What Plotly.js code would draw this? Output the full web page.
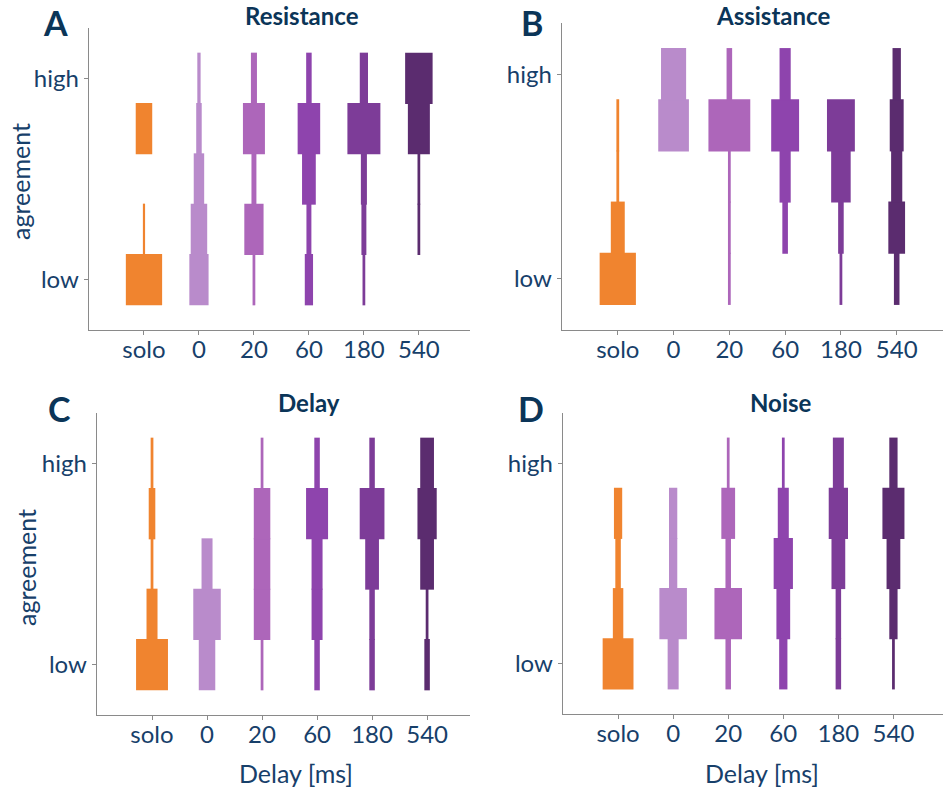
<!DOCTYPE html>
<html>
<head>
<meta charset="utf-8">
<script src="https://cdn.plot.ly/plotly-3.0.1.min.js"></script>
<style>html,body{margin:0;padding:0;background:#fff;}#chart{width:943px;height:789px;}</style>
</head>
<body>
<div id="chart"></div>
<script>
// categories and levels
const categories = ["solo", "0", "20", "60", "180", "540"];
const levelLabels = ["low", "high"];
const levels = [1, 2, 3, 4, 5]; // agreement levels low..high
const colors = ["#F0842F", "#B98BCB", "#AD66BA", "#8E44AD", "#7D3C98", "#5B2C6F"];

// proportion of responses per agreement level (low -> high) for each category
const resistance = {
  solo: [0.66, 0.04, 0.00, 0.30, 0.00],
  d0:   [0.35, 0.30, 0.19, 0.10, 0.06],
  d20:  [0.05, 0.35, 0.09, 0.40, 0.11],
  d60:  [0.15, 0.09, 0.25, 0.41, 0.10],
  d180: [0.05, 0.09, 0.11, 0.60, 0.15],
  d540: [0.00, 0.05, 0.05, 0.40, 0.50]
};
const assistance = {
  solo: [0.65, 0.25, 0.05, 0.05, 0.00],
  d0:   [0.00, 0.00, 0.00, 0.55, 0.45],
  d20:  [0.05, 0.05, 0.05, 0.75, 0.10],
  d60:  [0.00, 0.10, 0.20, 0.50, 0.20],
  d180: [0.05, 0.10, 0.35, 0.50, 0.00],
  d540: [0.10, 0.30, 0.20, 0.25, 0.15]
};
const delay = {
  solo: [0.58, 0.20, 0.05, 0.12, 0.05],
  d0:   [0.30, 0.50, 0.20, 0.00, 0.00],
  d20:  [0.05, 0.30, 0.30, 0.30, 0.05],
  d60:  [0.10, 0.20, 0.20, 0.40, 0.10],
  d180: [0.10, 0.10, 0.25, 0.45, 0.10],
  d540: [0.10, 0.05, 0.25, 0.35, 0.25]
};
const noise = {
  solo: [0.56, 0.19, 0.10, 0.15, 0.00],
  d0:   [0.20, 0.50, 0.15, 0.15, 0.00],
  d20:  [0.10, 0.50, 0.10, 0.25, 0.05],
  d60:  [0.15, 0.25, 0.35, 0.20, 0.05],
  d180: [0.10, 0.10, 0.25, 0.35, 0.20],
  d540: [0.05, 0.15, 0.25, 0.40, 0.15]
};

const panels = [
  {letter: "A", title: "Resistance", data: resistance},
  {letter: "B", title: "Assistance", data: assistance},
  {letter: "C", title: "Delay", data: delay},
  {letter: "D", title: "Noise", data: noise}
];
const keys = ["solo", "d0", "d20", "d60", "d180", "d540"];

const W = 943, H = 789;
const px = v => v / W;
const py = v => 1 - v / H;

// panel geometry (pixels)
const geom = [
  {x0: 89, x1: 470, y0: 28, y1: 330, xr: 6.93},
  {x0: 562, x1: 943, y0: 23, y1: 330, xr: 6.83},
  {x0: 97, x1: 470, y0: 413, y1: 715, xr: 6.78},
  {x0: 563, x1: 943, y0: 413, y1: 714, xr: 6.9}
];

const traces = [];
const layout = {
  width: W, height: H,
  margin: {l: 0, r: 0, t: 0, b: 0},
  paper_bgcolor: "#fff", plot_bgcolor: "#fff",
  showlegend: false,
  barmode: "overlay",
  font: {family: "Lato, 'Open Sans', sans-serif", color: "#17406A"},
  annotations: []
};

const textColor = "#17406A";
const titleColor = "#0B3558";
const seg = 0.51; // half height of one agreement band (tiny overlap avoids seams)

panels.forEach((p, i) => {
  const n = i + 1;
  const xa = "x" + (n === 1 ? "" : n), ya = "y" + (n === 1 ? "" : n);
  keys.forEach((k, j) => {
    traces.push({
      type: "bar",
      x: levels.map(() => j + 1),
      y: levels.map(() => 2 * seg),
      base: levels.map(l => l - seg),
      width: p.data[k],
      marker: {color: colors[j], line: {width: 0}},
      xaxis: xa, yaxis: ya,
      hoverinfo: "skip"
    });
  });
  const g = geom[i];
  layout["xaxis" + (n === 1 ? "" : n)] = {
    domain: [px(g.x0), px(g.x1)],
    anchor: ya,
    range: [0, g.xr],
    tickvals: [1, 2, 3, 4, 5, 6],
    ticktext: categories,
    ticks: "outside", ticklen: 4, tickwidth: 1, tickcolor: "#8a8a8a",
    ticklabelstandoff: -6,
    showline: true, linecolor: "#8a8a8a", linewidth: 1.3,
    showgrid: false, zeroline: false, fixedrange: true,
    tickfont: {family: "Lato, sans-serif", size: 24, color: textColor}
  };
  layout["yaxis" + (n === 1 ? "" : n)] = {
    domain: [py(g.y1), py(g.y0)],
    anchor: xa,
    range: [0, 6],
    tickvals: [1, 5],
    ticktext: levelLabels,
    ticks: "outside", ticklen: 4, tickwidth: 1, tickcolor: "#8a8a8a",
    showline: true, linecolor: "#8a8a8a", linewidth: 1.3,
    showgrid: false, zeroline: false, fixedrange: true,
    tickfont: {family: "Lato, sans-serif", size: 24, color: textColor}
  };
});

const ann = (text, x, y, opts) => Object.assign({
  text: text, x: px(x), y: py(y), xref: "paper", yref: "paper",
  showarrow: false, xanchor: "center", yanchor: "middle"
}, opts || {});

const letterPos = [[55, 22], [532, 23], [59, 408], [531, 408]];
const titlePos = [[302, 16], [773, 16], [309, 403], [781, 403]];
panels.forEach((p, i) => {
  layout.annotations.push(ann("<b>" + p.letter + "</b>", letterPos[i][0], letterPos[i][1],
    {font: {family: "Lato, sans-serif", size: 34, color: titleColor}}));
  layout.annotations.push(ann("<b>" + p.title + "</b>", titlePos[i][0], titlePos[i][1],
    {font: {family: "Lato, sans-serif", size: 24, color: titleColor}}));
});
layout.annotations.push(ann("agreement", 20, 182, {textangle: -90, font: {family: "Lato, sans-serif", size: 25, color: textColor}}));
layout.annotations.push(ann("agreement", 26, 568, {textangle: -90, font: {family: "Lato, sans-serif", size: 25, color: textColor}}));
layout.annotations.push(ann("Delay [ms]", 296, 773, {font: {family: "Lato, sans-serif", size: 25, color: textColor}}));
layout.annotations.push(ann("Delay [ms]", 762, 773, {font: {family: "Lato, sans-serif", size: 25, color: textColor}}));

Plotly.newPlot("chart", traces, layout, {displayModeBar: false, staticPlot: true});
</script>
</body>
</html>
